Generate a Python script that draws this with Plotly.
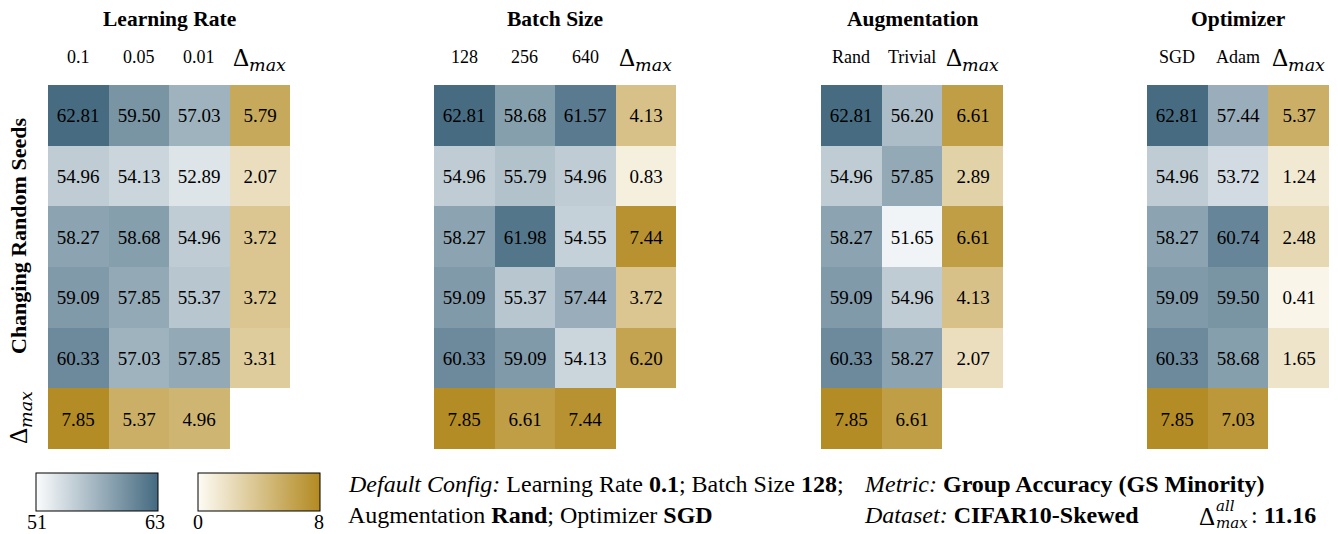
import plotly.graph_objects as go

# page is rendered with an 8px body margin, so the figure is sized to fill the rest
OFF = 8
FW, FH = 1330, 526
FONT = "Liberation Serif"
MATH = "DejaVu Serif"

# ---------------- data ----------------
panel_titles = ["Learning Rate", "Batch Size", "Augmentation", "Optimizer"]
lr_labels = ["0.1", "0.05", "0.01"]
bs_labels = ["128", "256", "640"]
aug_labels = ["Rand", "Trivial"]
opt_labels = ["SGD", "Adam"]

lr_vals = [[62.81, 59.50, 57.03], [54.96, 54.13, 52.89], [58.27, 58.68, 54.96],
           [59.09, 57.85, 55.37], [60.33, 57.03, 57.85]]
lr_dcol = [5.79, 2.07, 3.72, 3.72, 3.31]
lr_drow = [7.85, 5.37, 4.96]

bs_vals = [[62.81, 58.68, 61.57], [54.96, 55.79, 54.96], [58.27, 61.98, 54.55],
           [59.09, 55.37, 57.44], [60.33, 59.09, 54.13]]
bs_dcol = [4.13, 0.83, 7.44, 3.72, 6.20]
bs_drow = [7.85, 6.61, 7.44]

aug_vals = [[62.81, 56.20], [54.96, 57.85], [58.27, 51.65], [59.09, 54.96], [60.33, 58.27]]
aug_dcol = [6.61, 2.89, 6.61, 4.13, 2.07]
aug_drow = [7.85, 6.61]

opt_vals = [[62.81, 57.44], [54.96, 53.72], [58.27, 60.74], [59.09, 59.50], [60.33, 58.68]]
opt_dcol = [5.37, 1.24, 2.48, 0.41, 1.65]
opt_drow = [7.85, 7.03]

acc_range = [51, 63]
delta_range = [0, 8]
delta_all = 11.16

panels = [
    (panel_titles[0], lr_labels, lr_vals, lr_dcol, lr_drow),
    (panel_titles[1], bs_labels, bs_vals, bs_dcol, bs_drow),
    (panel_titles[2], aug_labels, aug_vals, aug_dcol, aug_drow),
    (panel_titles[3], opt_labels, opt_vals, opt_dcol, opt_drow),
]


def PX(x):
    return (x - OFF) / FW


def PY(y):
    return 1 - (y - OFF) / FH


def ann(x, y, text, font, xref="paper", xanchor="center", **kw):
    d = dict(x=x, y=y, xref=xref, yref="paper", text=text, showarrow=False,
             xanchor=xanchor, yanchor="middle", font=font)
    d.update(kw)
    return d


# ---------------- layout geometry (page pixels) ----------------
panel_x = [(48, 290), (434, 676), (821, 1003), (1147, 1329)]
top_px, bot_px = 85, 449

blue_scale = [[0, "#fbfcfd"], [1, "#446a80"]]
gold_scale = [[0, "#fdfbf4"], [1, "#b38a22"]]

fig = go.Figure()
annotations = []
DELTA = "Δ<sub><span style='font-family:DejaVu Serif'><i>max</i></span></sub>"
cell_font = dict(family=FONT, size=19, color="black")

for i, (title, labels, vals, dcol, drow) in enumerate(panels):
    n = len(labels)
    rows = len(vals)
    xa = "x" if i == 0 else f"x{i+1}"
    ya = "y" if i == 0 else f"y{i+1}"
    xs = list(range(n + 1))
    ys = list(range(rows + 1))
    zb = [[None] * (n + 1) for _ in range(rows + 1)]
    tb = [[""] * (n + 1) for _ in range(rows + 1)]
    zg = [[None] * (n + 1) for _ in range(rows + 1)]
    tg = [[""] * (n + 1) for _ in range(rows + 1)]
    for r in range(rows):
        for c in range(n):
            zb[r][c] = vals[r][c]
            tb[r][c] = f"{vals[r][c]:.2f}"
        zg[r][n] = dcol[r]
        tg[r][n] = f"{dcol[r]:.2f}"
    for c in range(n):
        zg[rows][c] = drow[c]
        tg[rows][c] = f"{drow[c]:.2f}"
    fig.add_trace(go.Heatmap(z=zb, x=xs, y=ys, text=tb, texttemplate="%{text}",
                             textfont=cell_font, coloraxis="coloraxis",
                             xaxis=xa, yaxis=ya, hoverinfo="skip"))
    fig.add_trace(go.Heatmap(z=zg, x=xs, y=ys, text=tg, texttemplate="%{text}",
                             textfont=cell_font, coloraxis="coloraxis2",
                             xaxis=xa, yaxis=ya, hoverinfo="skip"))
    x0, x1 = panel_x[i]
    axx = dict(domain=[PX(x0), PX(x1)], range=[-0.5, n + 0.5], visible=False,
               anchor=ya, fixedrange=True)
    axy = dict(domain=[PY(bot_px), PY(top_px)], range=[rows + 0.5, -0.5],
               visible=False, anchor=xa, fixedrange=True)
    key = "" if i == 0 else str(i + 1)
    fig.update_layout(**{f"xaxis{key}": axx, f"yaxis{key}": axy})
    annotations.append(ann(PX((x0 + x1) / 2), PY(19), f"<b>{title}</b>",
                           dict(family=FONT, size=21.5, color="black")))
    for c, lab in enumerate(labels):
        annotations.append(ann(c, PY(57), lab, dict(family=FONT, size=18, color="black"),
                               xref=xa))
    annotations.append(ann(n, PY(59), DELTA, dict(family=FONT, size=25, color="black"),
                           xref=xa))

# row labels
annotations.append(ann(PX(19), PY(236), "<b>Changing Random Seeds</b>",
                       dict(family=FONT, size=22, color="black"), textangle=-90,
                       borderpad=0))
annotations.append(ann(PX(20), PY(418), DELTA,
                       dict(family=FONT, size=25, color="black"), textangle=-90,
                       borderpad=0))

# colorbar end labels
cb_font = dict(family=FONT, size=20, color="black")
for xp, v in zip((37, 155), acc_range):
    annotations.append(ann(PX(xp), PY(522), str(v), cb_font))
for xp, v in zip((198, 319), delta_range):
    annotations.append(ann(PX(xp), PY(522), str(v), cb_font))

# bottom text
bt = dict(family=FONT, size=24, color="black")
annotations += [
    ann(PX(346), PY(484),
        "<i>Default Config:</i> Learning Rate <b>0.1</b>; Batch Size <b>128</b>;",
        bt, xanchor="left"),
    ann(PX(346), PY(515), "Augmentation <b>Rand</b>; Optimizer <b>SGD</b>", bt,
        xanchor="left"),
    ann(PX(862), PY(484), "<i>Metric:</i> <b>Group Accuracy (GS Minority)</b>", bt,
        xanchor="left"),
    ann(PX(862), PY(515), "<i>Dataset:</i> <b>CIFAR10-Skewed</b>", bt, xanchor="left"),
    ann(PX(1197), PY(516), "Δ", dict(family=FONT, size=25, color="black"), xanchor="left"),
    ann(PX(1214), PY(506), "<i>all</i>", dict(family=MATH, size=15, color="black"),
        xanchor="left"),
    ann(PX(1214), PY(523), "<i>max</i>", dict(family=MATH, size=15, color="black"),
        xanchor="left"),
    ann(PX(1318), PY(515), f": <b>{delta_all:.2f}</b>", bt, xanchor="right"),
]

cb_common = dict(orientation="h", xanchor="left", yanchor="top", lenmode="pixels",
                 len=122, thicknessmode="pixels", thickness=38, xpad=0, ypad=0,
                 outlinewidth=1, outlinecolor="black", ticks="", showticklabels=False)

fig.update_layout(
    width=FW, height=FH, margin=dict(l=0, r=0, t=0, b=0),
    paper_bgcolor="white", plot_bgcolor="white",
    coloraxis=dict(colorscale=blue_scale, cmin=acc_range[0], cmax=acc_range[1],
                   colorbar=dict(x=PX(36), y=PY(473), tickvals=acc_range, **cb_common)),
    coloraxis2=dict(colorscale=gold_scale, cmin=delta_range[0], cmax=delta_range[1],
                    colorbar=dict(x=PX(198), y=PY(473), tickvals=delta_range, **cb_common)),
    annotations=annotations,
)

fig.write_html("out.html")
